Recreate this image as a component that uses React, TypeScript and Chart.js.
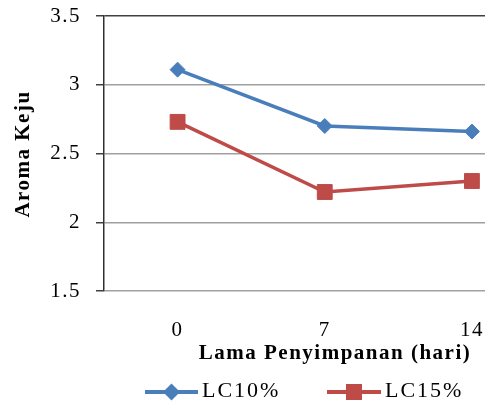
import React, { useEffect, useRef } from "react";
import { Chart, registerables } from "chart.js";

Chart.register(...registerables);

const categories = ["0", "7", "14"];
const lc10 = [3.11, 2.70, 2.66];
const lc15 = [2.73, 2.22, 2.30];
const seriesNames = ["LC10%", "LC15%"];
const yTicks = [1.5, 2, 2.5, 3, 3.5];
const xTitle = "Lama Penyimpanan (hari)";
const yTitle = "Aroma Keju";

const BLUE = "#4a7ebb";
const RED = "#be4b48";
const FONT = "'Liberation Serif', 'Times New Roman', serif";

const textPlugin = {
  id: "excelText",
  beforeDraw(chart: any) {
    (chart.ctx as any).letterSpacing = "1.5px";
  },
  afterDraw(chart: any) {
    const ctx = chart.ctx;
    ctx.save();
    // axis titles
    ctx.fillStyle = "#000";
    ctx.font = `bold 21px ${FONT}`;
    (ctx as any).letterSpacing = "1.5px";
    ctx.textAlign = "center";
    ctx.textBaseline = "alphabetic";
    ctx.fillText(xTitle, 335, 358.5);
    ctx.save();
    ctx.translate(29, 154);
    ctx.rotate(-Math.PI / 2);
    ctx.fillText(yTitle, 0, 0);
    ctx.restore();

    // legend
    (ctx as any).letterSpacing = "2px";
    const items = [
      { name: seriesNames[0], color: BLUE, style: "diamond", x0: 145, x1: 198, tx: 202 },
      { name: seriesNames[1], color: RED, style: "square", x0: 327, x1: 381, tx: 385 },
    ];
    const y = 392;
    for (const it of items) {
      ctx.strokeStyle = it.color;
      ctx.lineWidth = 4;
      ctx.beginPath();
      ctx.moveTo(it.x0, y);
      ctx.lineTo(it.x1, y);
      ctx.stroke();
      ctx.fillStyle = it.color;
      const cx = (it.x0 + it.x1) / 2;
      ctx.beginPath();
      if (it.style === "diamond") {
        const r = 8.5;
        ctx.moveTo(cx - r, y);
        ctx.lineTo(cx, y - r);
        ctx.lineTo(cx + r, y);
        ctx.lineTo(cx, y + r);
        ctx.closePath();
      } else {
        ctx.rect(cx - 8, y - 8, 16, 16);
      }
      ctx.fill();
      ctx.fillStyle = "#000";
      ctx.font = `22px ${FONT}`;
      ctx.textAlign = "left";
      ctx.textBaseline = "alphabetic";
      ctx.fillText(it.name, it.tx, 397);
    }
    ctx.restore();
  },
};

export default function App() {
  const ref = useRef<HTMLCanvasElement>(null);
  useEffect(() => {
    if (!ref.current) return;
    const chart = new Chart(ref.current, {
      type: "line",
      data: {
        labels: categories,
        datasets: [
          {
            label: seriesNames[0],
            data: lc10,
            borderColor: BLUE,
            backgroundColor: BLUE,
            borderWidth: 3.5,
            pointStyle: "rectRot",
            pointRadius: 7.5,
            pointBorderWidth: 1,
            pointBorderColor: BLUE,
            pointBackgroundColor: BLUE,
            tension: 0,
          },
          {
            label: seriesNames[1],
            data: lc15,
            borderColor: RED,
            backgroundColor: RED,
            borderWidth: 3.5,
            pointStyle: "rect",
            pointRadius: 10.5,
            pointBorderWidth: 1,
            pointBorderColor: RED,
            pointBackgroundColor: RED,
            tension: 0,
          },
        ],
      },
      options: {
        responsive: false,
        animation: false,
        devicePixelRatio: 1,
        layout: { padding: { left: 0, right: 0, top: 16, bottom: 39 } },
        plugins: {
          legend: { display: false },
          tooltip: { enabled: false },
        },
        font: { family: FONT },
        scales: {
          x: {
            type: "category",
            offset: true,
            grid: { display: false },
            border: { display: false },
            ticks: {
              color: "#000",
              font: { family: FONT, size: 21 },
              padding: 19,
            },
            title: { display: false, text: xTitle },
            afterFit(scale: any) {
              scale.height = 73;
            },
          },
          y: {
            type: "linear",
            min: 1.5,
            max: 3.5,
            afterBuildTicks(scale: any) {
              scale.ticks = yTicks.map((v) => ({ value: v }));
            },
            ticks: {
              color: "#000",
              font: { family: FONT, size: 21 },
              padding: 15,
              callback: (v: any) => String(v),
            },
            grid: {
              color: (c: any) => (c.tick && c.tick.value === 3.5 ? "#404040" : "#a0a0a0"),
              lineWidth: 1.5,
              tickLength: 8,
              tickColor: "#404040",
            },
            border: { display: true, color: "#303030", width: 1.5 },
            title: { display: false, text: yTitle },
            afterFit(scale: any) {
              scale.width = 104;
              scale.paddingTop = 0;
              scale.paddingBottom = 0;
            },
          },
        },
      },
      plugins: [textPlugin],
    } as any);
    return () => chart.destroy();
  }, []);
  return (
    <div
      style={{
        position: "absolute",
        left: 0,
        top: 0,
        width: 485,
        height: 403,
        overflow: "hidden",
        background: "#fff",
      }}
    >
      <canvas ref={ref} width={557} height={403} style={{ width: 557, height: 403, display: "block" }} />
    </div>
  );
}
